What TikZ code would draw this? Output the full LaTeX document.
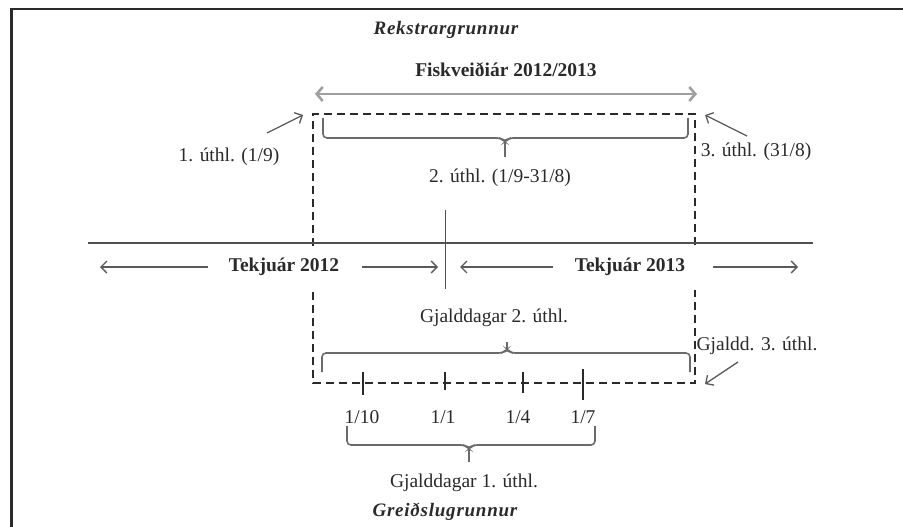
\documentclass[tikz,border=0pt]{standalone}
\usepackage{fontspec}
\setmainfont{Liberation Serif}
\newfontfamily\spacedbi[LetterSpace=4]{Liberation Serif}
\usetikzlibrary{arrows.meta}
\definecolor{ink}{HTML}{2A2A2A}
\definecolor{linegray}{HTML}{505050}
\definecolor{arrowgray}{HTML}{5A5A5A}
\definecolor{bracegray}{HTML}{6A6A6A}
\begin{document}
\begin{tikzpicture}[x=1pt,y=-1pt,
  every node/.style={text=ink, inner sep=0pt},
  lbl/.style={font=\fontsize{19.5}{22}\selectfont},
  blbl/.style={font=\fontsize{19.5}{22}\selectfont\bfseries},
  basis/.style={font=\spacedbi\fontsize{19}{21}\selectfont\bfseries\itshape},
  barb/.style={draw=arrowgray, line width=1.3pt, -{Straight Barb[length=6pt,width=12pt]}},
  bracestyle/.style={draw=bracegray, line width=1.6pt, rounded corners=4pt},
  tickstyle/.style={draw=ink, line width=1.4pt},
  dashbox/.style={draw=ink, line width=2.6pt, dash pattern=on 8pt off 5pt}
]
\useasboundingbox (0,0) rectangle (903,527);
\fill[white] (0,0) rectangle (903,527);
% frame
\draw[ink, line width=2.2pt] (903,9) -- (11.5,9) -- (11.5,527);

% titles
\node[basis] (rek) at (446,30) {Rekstrargrunnur};
\node[blbl] (fisk) at (506,70) {Fiskveiðiár 2012/2013};
\coordinate (fl) at (315,94);
\coordinate (fr) at (697,94);
\draw[draw=gray!75, line width=2.6pt, {Straight Barb[length=6pt,width=14pt]}-{Straight Barb[length=6pt,width=14pt]}] (fl) -- (fr);

% dashed box (sides broken around the Tekjuár labels)
\coordinate (btl) at (313,114);
\coordinate (btr) at (695,114);
\coordinate (bbl) at (313,383);
\coordinate (bbr) at (695,383);
\coordinate (blm1) at (313,246);
\coordinate (blm2) at (313,292);
\coordinate (brm1) at (695,246);
\coordinate (brm2) at (695,290);
\draw[dashbox] (blm1) -- (btl) -- (btr) -- (brm1);
\draw[dashbox] (blm2) -- (bbl) -- (bbr) -- (brm2);

% top brace
\draw[bracestyle] (323,118) -- (323,138) -- (501,138) -- (505,142) -- (509,138) -- (688,138) -- (688,118);
\draw[draw=bracegray, line width=1.6pt] (505,141) -- (505,157);

% labels near top
\node[lbl] (u2) at (500,178) {2. úthl. (1/9-31/8)};
\node[lbl] (u1) at (229,157) {1. úthl. (1/9)};
\node[lbl] (u3) at (756,152) {3. úthl. (31/8)};
\coordinate (u1t) at (267,133);
\coordinate (u1h) at (303,115);
\draw[barb] (u1t) -- (u1h);
\coordinate (u3t) at (747,136);
\coordinate (u3h) at (705,115);
\draw[barb] (u3t) -- (u3h);

% main time line
\coordinate (hl) at (88,243);
\coordinate (hr) at (813,243);
\draw[draw=linegray, line width=2pt] (hl) -- (hr);
\coordinate (vt) at (445,210);
\coordinate (vb) at (445,289);
\draw[draw=linegray, line width=1pt] (vt) -- (vb);

\node[blbl] (t12) at (284,267) {Tekjuár 2012};
\node[blbl] (t13) at (630,267) {Tekjuár 2013};
\coordinate (t12a) at (208,267); \coordinate (t12b) at (100,267);
\coordinate (t12c) at (362,267); \coordinate (t12d) at (438,267);
\coordinate (t13a) at (553,267); \coordinate (t13b) at (460,267);
\coordinate (t13c) at (713,267); \coordinate (t13d) at (798,267);
\draw[barb] (t12a) -- (t12b);
\draw[barb] (t12c) -- (t12d);
\draw[barb] (t13a) -- (t13b);
\draw[barb] (t13c) -- (t13d);

% lower part
\node[lbl] (g2) at (494,318) {Gjalddagar 2. úthl.};
\draw[bracestyle] (322,372) -- (322,353) -- (503,353) -- (507,349) -- (511,353) -- (690,353) -- (690,372);
\draw[draw=bracegray, line width=1.6pt] (507,350) -- (507,342);

\node[lbl] (g3) at (757,346) {Gjaldd. 3. úthl.};
\coordinate (g3t) at (738,362);
\coordinate (g3h) at (705,384);
\draw[barb] (g3t) -- (g3h);

% ticks
\draw[tickstyle] (363,372) -- (363,395);
\draw[tickstyle] (445,372) -- (445,390);
\draw[tickstyle] (523,372) -- (523,393);
\draw[tickstyle] (583,369) -- (583,400);

\node[lbl] (d1) at (362,417) {1/10};
\node[lbl] (d2) at (443,417) {1/1};
\node[lbl] (d3) at (518,417) {1/4};
\node[lbl] (d4) at (583,417) {1/7};

\draw[bracestyle] (347,426) -- (347,445) -- (465,445) -- (469,449) -- (473,445) -- (595,445) -- (595,426);
\draw[draw=bracegray, line width=1.6pt] (469,448) -- (469,462);

\node[lbl] (g1) at (464,483) {Gjalddagar 1. úthl.};
\node[basis] (grs) at (445,512) {Greiðslugrunnur};
\end{tikzpicture}
\end{document}
